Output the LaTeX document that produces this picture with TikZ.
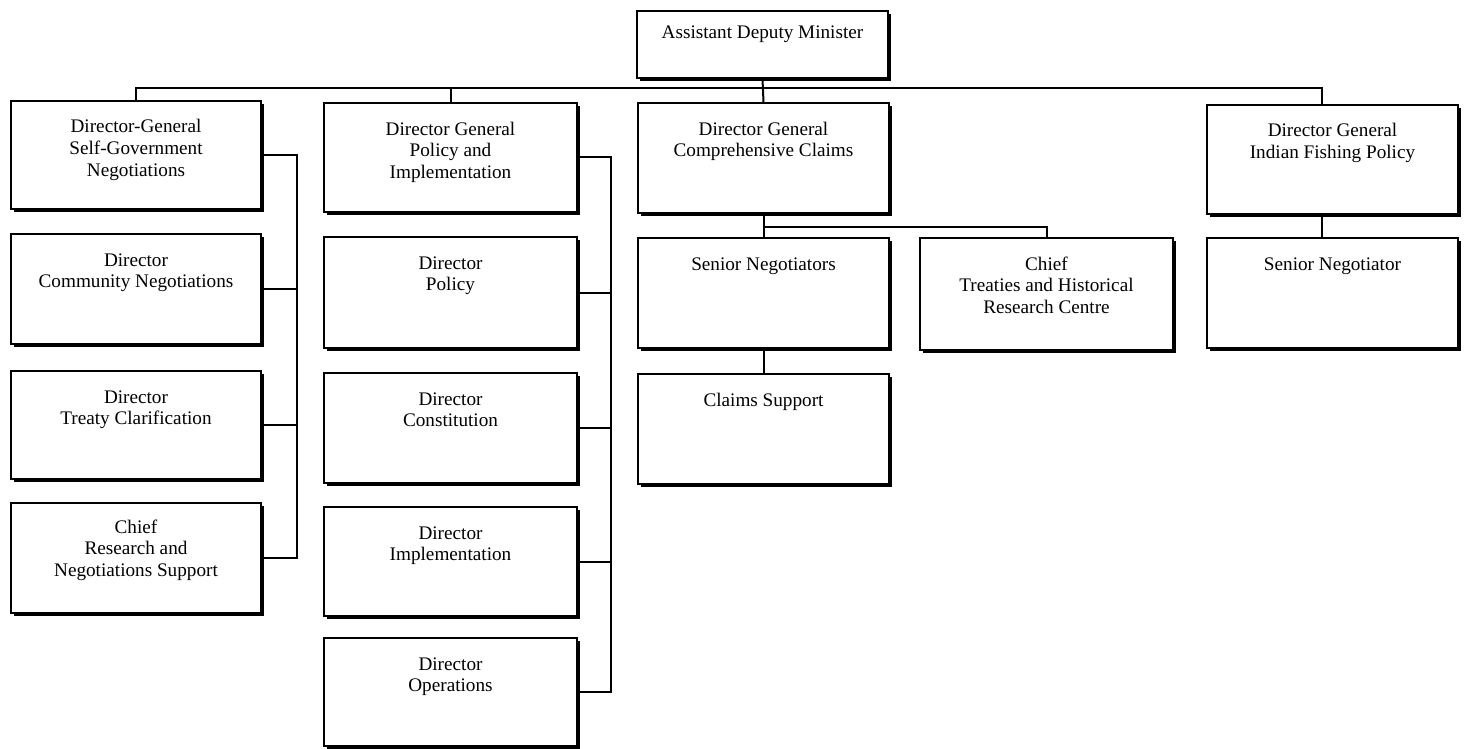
\documentclass[tikz,border=0pt]{standalone}
\usepackage{fontspec}
\setmainfont{Liberation Serif}
\usetikzlibrary{shadows,calc}
% box text: width, height, first-baseline drop, lines
\newcommand\boxtext[4]{\parbox[c][#2][t]{#1}{\centering\fontsize{9.6}{10.8}\selectfont\rule{0pt}{#3}#4\par}}
\begin{document}
\begin{tikzpicture}[x=0.5pt,y=-0.5pt,
  orgbox/.style={draw, fill=white, line width=1pt, inner sep=0pt, anchor=north west,
    drop shadow={shadow xshift=1.4pt, shadow yshift=-1.5pt, opacity=1, fill=black}},
  link/.style={line width=1pt}]
\useasboundingbox[fill=white] (0,0) rectangle (1467,749);

% top
\node[orgbox] (adm) at (636,10) {\boxtext{125.5pt}{33.5pt}{14pt}{Assistant Deputy Minister}};

% self-government column
\node[orgbox] (dgsg) at (10,100) {\boxtext{125pt}{54pt}{16pt}{Director-General\\Self-Government\\Negotiations}};
\node[orgbox] (dircn) at (10,233) {\boxtext{125pt}{55pt}{16pt}{Director\\Community Negotiations}};
\node[orgbox] (dirtc) at (10,370) {\boxtext{125pt}{54pt}{16pt}{Director\\Treaty Clarification}};
\node[orgbox] (chrs) at (10,502) {\boxtext{125pt}{55pt}{15pt}{Chief\\Research and\\Negotiations Support}};

% policy and implementation column
\node[orgbox] (dgpi) at (323,102) {\boxtext{126.5pt}{54.5pt}{16pt}{Director General\\Policy and\\Implementation}};
\node[orgbox] (dirpol) at (323,236) {\boxtext{126.5pt}{55.5pt}{16pt}{Director\\Policy}};
\node[orgbox] (dircon) at (323,372) {\boxtext{126.5pt}{55pt}{16pt}{Director\\Constitution}};
\node[orgbox] (dirimp) at (323,506) {\boxtext{126.5pt}{54.5pt}{16pt}{Director\\Implementation}};
\node[orgbox] (dirops) at (323,637) {\boxtext{126.5pt}{54pt}{16pt}{Director\\Operations}};

% comprehensive claims column
\node[orgbox] (dgcc) at (637,102) {\boxtext{125.5pt}{55pt}{16pt}{Director General\\Comprehensive Claims}};
\node[orgbox] (senneg) at (637,237) {\boxtext{125.5pt}{55pt}{16pt}{Senior Negotiators}};
\node[orgbox] (clsup) at (637,373) {\boxtext{125.5pt}{55pt}{16pt}{Claims Support}};
\node[orgbox] (chtr) at (919,237) {\boxtext{126.5pt}{56pt}{16pt}{Chief\\Treaties and Historical\\Research Centre}};

% indian fishing policy column
\node[orgbox] (dgifp) at (1206,104) {\boxtext{125.5pt}{54.5pt}{16pt}{Director General\\Indian Fishing Policy}};
\node[orgbox] (sennegr) at (1206,237) {\boxtext{125.5pt}{55pt}{16pt}{Senior Negotiator}};

% connector guides
\coordinate (busy) at (0,88);
\coordinate (c1x) at (297,0);
\coordinate (c2x) at (611,0);
\coordinate (ccy) at (0,227);
\coordinate (ifpx) at (1322,0);

% main bus
\draw[link] (adm.south) -- (dgcc.north);
\draw[link] (dgsg.north) -- (dgsg.north |- busy) -- (ifpx |- busy) -- (ifpx |- dgifp.north);
\draw[link] (dgpi.north) -- (dgpi.north |- busy);

% self-government spine
\draw[link] (dgsg.east) -- (dgsg.east -| c1x) -- (c1x |- chrs.east) -- (chrs.east);
\foreach \n in {dircn,dirtc} \draw[link] (\n.east) -- (\n.east -| c1x);

% policy spine
\draw[link] (dgpi.east) -- (dgpi.east -| c2x) -- (c2x |- dirops.east) -- (dirops.east);
\foreach \n in {dirpol,dircon,dirimp} \draw[link] (\n.east) -- (\n.east -| c2x);

% claims branch
\draw[link] (dgcc.south) -- (senneg.north);
\draw[link] (dgcc.south |- ccy) -- (chtr.north |- ccy) -- (chtr.north);
\draw[link] (senneg.south) -- (clsup.north);

% fishing branch
\draw[link] (ifpx |- dgifp.south) -- (ifpx |- sennegr.north);
\end{tikzpicture}
\end{document}
